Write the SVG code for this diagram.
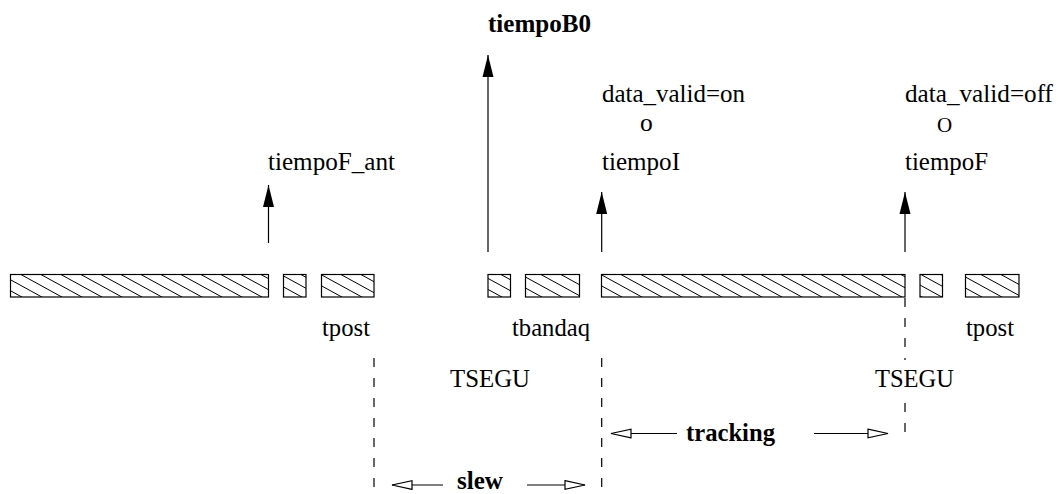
<svg xmlns="http://www.w3.org/2000/svg" width="1060" height="494" viewBox="0 0 1060 494">
<defs>
<style>
.t{font-family:"Liberation Serif","Times New Roman",serif;font-size:25.5px;fill:#000}
.b{font-weight:bold}
.bar{fill:url(#hatch);stroke:#000;stroke-width:1.2}
.up{stroke:#000;stroke-width:1.2;fill:none;marker-end:url(#solid)}
.dash{stroke:#000;stroke-width:1.2;stroke-dasharray:9 11;fill:none}
.open{stroke:#000;stroke-width:1.2;fill:none;marker-end:url(#hollow)}
</style>
<pattern id="hatch" patternUnits="userSpaceOnUse" x="0" y="274" width="20" height="11">
<path d="M-2,-1.1 L22,12.1 M-2,9.9 L2,12.1 M18,-1.1 L22,1.1" stroke="#000" stroke-width="1"/>
</pattern>
<marker id="solid" markerUnits="userSpaceOnUse" markerWidth="24" markerHeight="14" refX="22" refY="5.5" orient="auto" overflow="visible">
<path d="M0,0 L22,5.5 L0,11 z" fill="#000"/>
</marker>
<marker id="hollow" markerUnits="userSpaceOnUse" markerWidth="22" markerHeight="12" refX="20" refY="4.3" orient="auto" overflow="visible">
<path d="M0,0 L20,4.3 L0,8.6 z" fill="#fff" stroke="#000" stroke-width="1.2"/>
</marker>
</defs>
<rect width="1060" height="494" fill="#fff"/>

<g id="bars">
<rect class="bar" x="10.5" y="274.5" width="258" height="22.5"/>
<rect class="bar" x="283.5" y="274.5" width="22.5" height="22.5"/>
<rect class="bar" x="321.5" y="274.5" width="52.5" height="22.5"/>
<rect class="bar" x="488" y="274.5" width="22.5" height="22.5"/>
<rect class="bar" x="525.5" y="274.5" width="54" height="22.5"/>
<rect class="bar" x="601.5" y="274.5" width="303.5" height="22.5"/>
<rect class="bar" x="920" y="274.5" width="22.5" height="22.5"/>
<rect class="bar" x="965.5" y="274.5" width="53.5" height="22.5"/>
</g>

<g id="connectors">
<line class="up" x1="268.5" y1="243" x2="268.5" y2="185"/>
<line class="up" x1="488" y1="252" x2="488" y2="55"/>
<line class="up" x1="601.7" y1="252" x2="601.7" y2="192"/>
<line class="up" x1="905" y1="252" x2="905" y2="192"/>
<line class="dash" x1="374" y1="358" x2="374" y2="494"/>
<line class="dash" x1="601.7" y1="358" x2="601.7" y2="494"/>
<line class="dash" x1="905" y1="298" x2="905" y2="360"/>
<line class="dash" x1="905" y1="403" x2="905" y2="436"/>
<line class="open" x1="443" y1="485" x2="392" y2="485"/>
<line class="open" x1="527" y1="485" x2="585" y2="485"/>
<line class="open" x1="677" y1="433.5" x2="611" y2="433.5"/>
<line class="open" x1="814" y1="433.5" x2="888" y2="433.5"/>
</g>

<g id="labels">
<text class="t" x="268" y="170" textLength="127" lengthAdjust="spacingAndGlyphs">tiempoF_ant</text>
<text class="t b" x="488" y="32" textLength="103" lengthAdjust="spacingAndGlyphs">tiempoB0</text>
<text class="t" x="602" y="102" textLength="143" lengthAdjust="spacingAndGlyphs">data_valid=on</text>
<text class="t" x="640" y="131">o</text>
<text class="t" x="602" y="170" textLength="78" lengthAdjust="spacingAndGlyphs">tiempoI</text>
<text class="t" x="905" y="102" textLength="148" lengthAdjust="spacingAndGlyphs">data_valid=off</text>
<text class="t" x="937" y="132" style="font-size:21px">O</text>
<text class="t" x="905" y="170" textLength="83" lengthAdjust="spacingAndGlyphs">tiempoF</text>
<text class="t" x="322" y="336" textLength="48" lengthAdjust="spacingAndGlyphs">tpost</text>
<text class="t" x="512" y="336" textLength="78" lengthAdjust="spacingAndGlyphs">tbandaq</text>
<text class="t" x="450" y="387" textLength="80" lengthAdjust="spacingAndGlyphs">TSEGU</text>
<text class="t" x="875" y="387" textLength="79" lengthAdjust="spacingAndGlyphs">TSEGU</text>
<text class="t" x="966" y="336" textLength="48" lengthAdjust="spacingAndGlyphs">tpost</text>
<text class="t b" x="686" y="441" textLength="89" lengthAdjust="spacingAndGlyphs">tracking</text>
<text class="t b" x="457" y="489" textLength="46" lengthAdjust="spacingAndGlyphs">slew</text>
</g>
</svg>
